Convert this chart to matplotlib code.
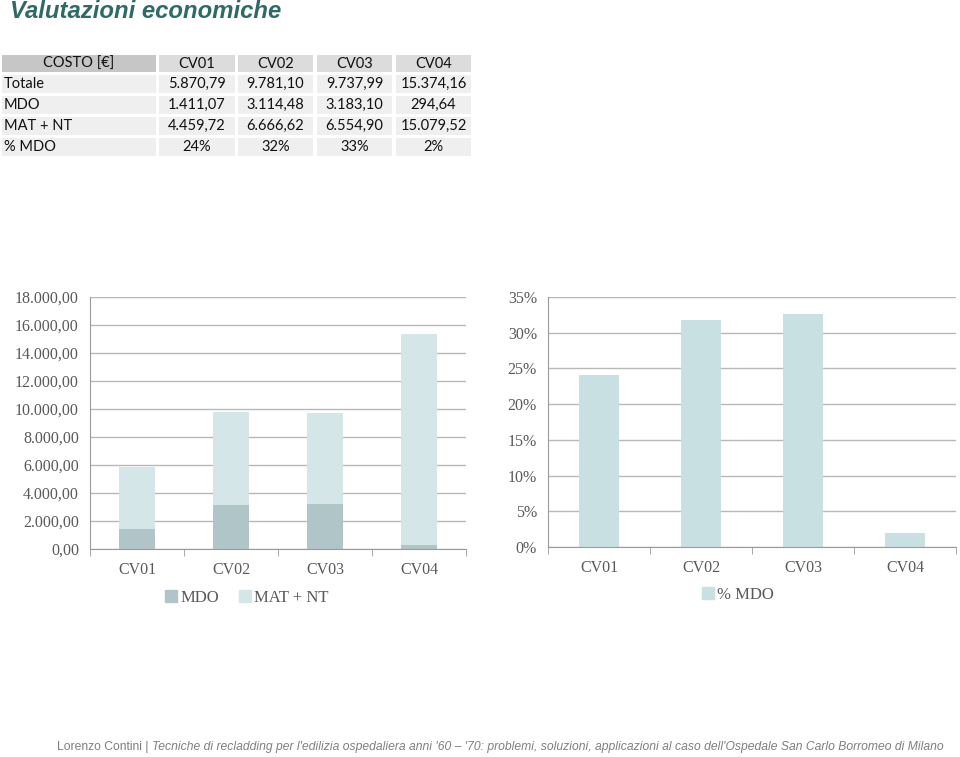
import matplotlib
matplotlib.use("Agg")
import matplotlib.pyplot as plt
from matplotlib.patches import Rectangle, Patch

categories = ["CV01", "CV02", "CV03", "CV04"]
mdo = [1411.07, 3114.48, 3183.10, 294.64]
mat_nt = [4459.72, 6666.62, 6554.90, 15079.52]
pct_mdo = [24.04, 31.84, 32.69, 1.92]

table_header = ["COSTO [€]", "CV01", "CV02", "CV03", "CV04"]
table_rows = [
    ["Totale", "5.870,79", "9.781,10", "9.737,99", "15.374,16"],
    ["MDO", "1.411,07", "3.114,48", "3.183,10", "294,64"],
    ["MAT + NT", "4.459,72", "6.666,62", "6.554,90", "15.079,52"],
    ["% MDO", "24%", "32%", "33%", "2%"],
]
left_ticks = ["0,00", "2.000,00", "4.000,00", "6.000,00", "8.000,00", "10.000,00",
              "12.000,00", "14.000,00", "16.000,00", "18.000,00"]
right_ticks = ["0%", "5%", "10%", "15%", "20%", "25%", "30%", "35%"]

W, H = 960, 757
fig = plt.figure(figsize=(W / 100, H / 100), dpi=100)

c_mdo = "#b0c5c8"
c_mat = "#d5e6e8"
c_pct = "#c8e0e2"
grid_c = "#b8b8b8"
axis_c = "#9a9a9a"
txt_c = "#595959"
serif = ["Liberation Serif", "DejaVu Serif"]


def fx(px):
    return px / W


def fy(py):
    return 1 - py / H


# title
fig.text(fx(10), fy(12), "Valutazioni economiche", fontsize=17.2, fontweight="bold",
         fontstyle="italic", color="#2f6b66", family="Liberation Sans", va="center")

# table
col_x = [(2, 156), (159, 235), (238, 313), (317, 392), (396, 471)]
row_y = [(55, 72), (75, 93), (96, 114), (117, 135), (138, 156)]
for r, (y0, y1) in enumerate(row_y):
    cells = table_header if r == 0 else table_rows[r - 1]
    for c, (x0, x1) in enumerate(col_x):
        if r == 0:
            fc = "#c6c6c6" if c == 0 else "#dcdcdc"
        else:
            fc = "#efefef"
        fig.patches.append(Rectangle((fx(x0), fy(y1)), fx(x1 - x0), (y1 - y0) / H,
                                     transform=fig.transFigure, facecolor=fc,
                                     edgecolor="none"))
        if r > 0 and c == 0:
            fig.text(fx(x0 + 2), fy((y0 + y1) / 2), cells[c], fontsize=10.5,
                     family="Lato", color="#111111", va="center", ha="left")
        else:
            fig.text(fx((x0 + x1) / 2), fy((y0 + y1) / 2), cells[c], fontsize=10.5,
                     family="Lato", color="#111111", va="center", ha="center")

x = list(range(len(categories)))


def style_axes(ax):
    ax.set_xlim(-0.5, 3.5)
    ax.yaxis.grid(True, color=grid_c, linewidth=1)
    ax.set_axisbelow(True)
    for s in ["top", "right"]:
        ax.spines[s].set_visible(False)
    ax.spines["left"].set_color(axis_c)
    ax.spines["bottom"].set_color(axis_c)
    ax.set_xticks(x)
    ax.set_xticklabels(categories, family=serif, fontsize=11.5, color=txt_c)
    ax.tick_params(axis="x", which="major", length=0, pad=9)
    ax.set_xticks([-0.5, 0.5, 1.5, 2.5, 3.5], minor=True)
    ax.tick_params(axis="x", which="minor", length=5, color=axis_c)
    ax.tick_params(axis="y", length=0, pad=8)


# left stacked chart
ax1 = fig.add_axes([fx(90), fy(549), fx(376), (549 - 297) / H])
ax1.bar(x, mdo, width=0.39, color=c_mdo, label="MDO")
ax1.bar(x, mat_nt, width=0.39, bottom=mdo, color=c_mat, label="MAT + NT")
ax1.set_ylim(0, 18000)
ax1.set_yticks(range(0, 18001, 2000))
ax1.set_yticklabels(left_ticks, family=serif, fontsize=11.5, color=txt_c)
style_axes(ax1)

# right percentage chart
ax2 = fig.add_axes([fx(548), fy(547), fx(408), (547 - 297) / H])
ax2.bar(x, pct_mdo, width=0.4, color=c_pct, label="% MDO")
ax2.set_ylim(0, 35)
ax2.set_yticks(range(0, 36, 5))
ax2.set_yticklabels(right_ticks, family=serif, fontsize=11.5, color=txt_c)
style_axes(ax2)

leg_kw = dict(loc="center", frameon=False, handlelength=0.7, handleheight=0.7,
              handletextpad=0.2, columnspacing=1.2,
              prop={"family": serif, "size": 12}, labelcolor=txt_c)
fig.legend(handles=[Patch(color=c_mdo, label="MDO"), Patch(color=c_mat, label="MAT + NT")],
           ncol=2, bbox_to_anchor=(fx(247), fy(598)), **leg_kw)
fig.legend(handles=[Patch(color=c_pct, label="% MDO")],
           bbox_to_anchor=(fx(738), fy(595)), **leg_kw)

# footer: two runs (regular + italic), sized to roughly fill 57..934 px
foot_x0, foot_x1 = 57, 938
t1 = fig.text(fx(foot_x0), fy(747), "Lorenzo Contini | ", fontsize=10,
              family="Liberation Sans", color="#7f7f7f", va="center", ha="left")
t2 = fig.text(fx(200), fy(747),
              "Tecniche di recladding per l'edilizia ospedaliera anni '60 – '70: problemi, "
              "soluzioni, applicazioni al caso dell'Ospedale San Carlo Borromeo di Milano",
              fontsize=10, family="Liberation Sans", fontstyle="italic", color="#7f7f7f",
              va="center", ha="left")
r = fig.canvas.get_renderer()
size = 10
for _ in range(3):
    total = t1.get_window_extent(r).width + t2.get_window_extent(r).width
    size *= (foot_x1 - foot_x0) / total
    t1.set_fontsize(size)
    t2.set_fontsize(size)
t2.set_x(t1.get_window_extent(r).x1 / W)

fig.savefig("out.png", dpi=100)
